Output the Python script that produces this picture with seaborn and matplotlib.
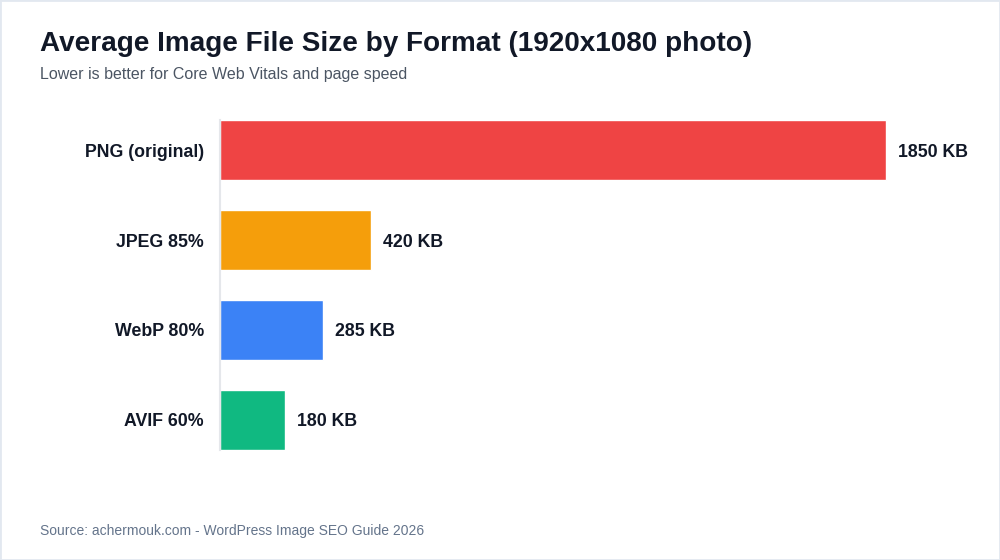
import matplotlib
matplotlib.use("Agg")
import matplotlib.pyplot as plt
from matplotlib.patches import Rectangle
import pandas as pd
import seaborn as sns

# chart values
formats = ["PNG (original)", "JPEG 85%", "WebP 80%", "AVIF 60%"]
sizes_kb = [1850, 420, 285, 180]
bar_colors = ["#ef4444", "#f59e0b", "#3b82f6", "#10b981"]

df = pd.DataFrame({"Format": formats, "Size": sizes_kb})

sns.set_theme(style="white")
plt.rcParams["font.family"] = ["Liberation Sans", "DejaVu Sans"]

fig = plt.figure(figsize=(10, 5.6), dpi=100)
fig.patch.set_facecolor("white")
# axes placed in pixel terms: left 220, right 960, top 120, bottom 450
ax = fig.add_axes([220 / 1000, 1 - 450 / 560, 740 / 1000, 330 / 560])

sns.barplot(data=df, x="Size", y="Format", hue="Format", palette=bar_colors,
            legend=False, width=0.667, saturation=1, ax=ax)

half = 0.667 / 2
ax.set_xlim(0, 1850 * 740 / 666)
ax.set_ylim(3 + half, -half)
ax.set_xlabel("")
ax.set_ylabel("")
ax.set_xticks([])
ax.tick_params(axis="y", length=0, pad=11.5)
for lab in ax.get_yticklabels():
    lab.set_fontsize(12.8)
    lab.set_fontweight("bold")
    lab.set_color("#111827")

for s in ["top", "right", "bottom"]:
    ax.spines[s].set_visible(False)
ax.spines["left"].set_color("#e5e7eb")
ax.spines["left"].set_linewidth(1.5)

# value labels at bar ends
for i, v in enumerate(sizes_kb):
    ax.annotate(f"{v} KB", xy=(v, i), xytext=(8.6, 0), textcoords="offset points",
                ha="left", va="center_baseline", fontsize=12.8, fontweight="bold",
                color="#111827")

fig.text(40 / 1000, 1 - 44 / 560, "Average Image File Size by Format (1920x1080 photo)",
         ha="left", va="center", fontsize=20.1, fontweight="bold", color="#111827")
fig.text(40 / 1000, 1 - 74 / 560, "Lower is better for Core Web Vitals and page speed",
         ha="left", va="center", fontsize=11.5, color="#4b5563")
fig.text(40 / 1000, 1 - 531 / 560, "Source: achermouk.com - WordPress Image SEO Guide 2026",
         ha="left", va="center", fontsize=10, color="#64748b")

fig.patches.append(Rectangle((0, 0), 1, 1, transform=fig.transFigure, fill=False,
                             edgecolor="#e2e8f0", linewidth=2))

fig.savefig("out.png", dpi=100, facecolor="white")
